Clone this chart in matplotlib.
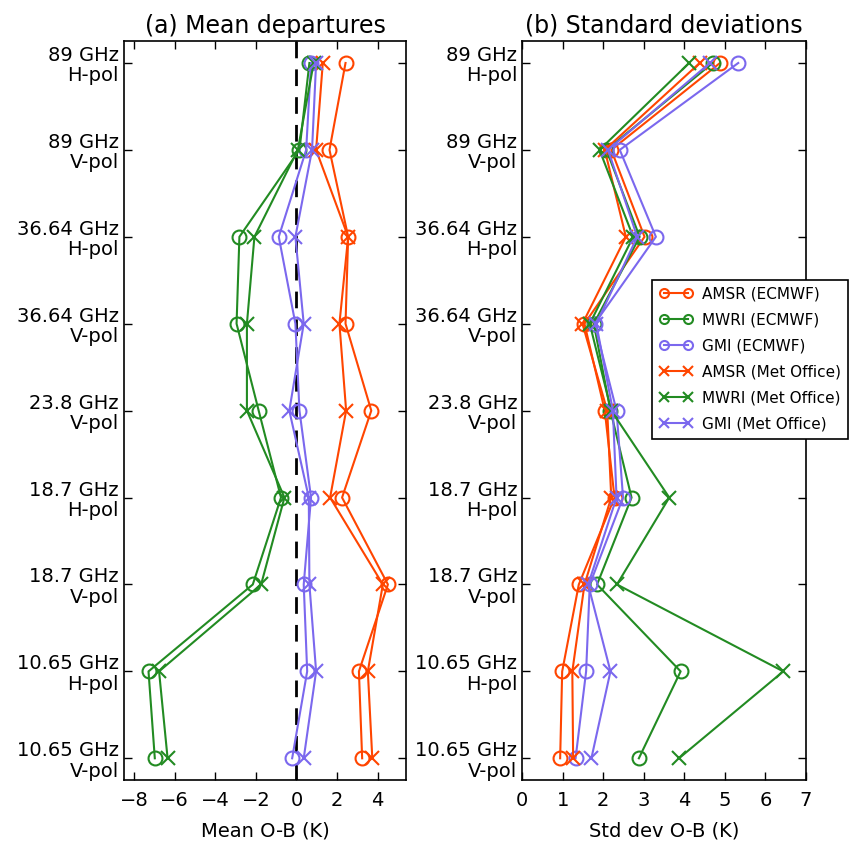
import numpy as np
import matplotlib
matplotlib.use("Agg")
import matplotlib.pyplot as plt

# channel labels, top to bottom
channels = ["89 GHz\nH-pol", "89 GHz\nV-pol", "36.64 GHz\nH-pol", "36.64 GHz\nV-pol",
            "23.8 GHz\nV-pol", "18.7 GHz\nH-pol", "18.7 GHz\nV-pol",
            "10.65 GHz\nH-pol", "10.65 GHz\nV-pol"]

# mean O-B (K)
amsr_ec_mean = [2.42, 1.63, 2.55, 2.42, 3.69, 2.25, 4.51, 3.08, 3.24]
mwri_ec_mean = [0.64, 0.15, -2.81, -2.95, -1.86, -0.76, -2.15, -7.29, -6.98]
gmi_ec_mean = [0.72, 0.48, -0.87, -0.05, 0.15, 0.72, 0.36, 0.53, -0.21]
amsr_mo_mean = [1.30, 0.97, 2.55, 2.12, 2.45, 1.66, 4.26, 3.52, 3.74]
mwri_mo_mean = [0.85, 0.07, -2.07, -2.44, -2.44, -0.59, -1.74, -6.77, -6.35]
gmi_mo_mean = [0.97, 0.77, -0.05, 0.36, -0.35, 0.61, 0.64, 0.97, 0.36]

# std dev O-B (K)
amsr_ec_std = [4.88, 2.20, 3.02, 1.54, 2.04, 2.28, 1.40, 0.99, 0.94]
mwri_ec_std = [4.70, 2.08, 2.90, 1.77, 2.18, 2.70, 1.85, 3.91, 2.88]
gmi_ec_std = [5.33, 2.41, 3.30, 1.79, 2.33, 2.49, 1.67, 1.58, 1.32]
amsr_mo_std = [4.38, 2.04, 2.56, 1.49, 2.10, 2.20, 1.54, 1.24, 1.26]
mwri_mo_std = [4.12, 1.91, 2.74, 1.67, 2.20, 3.63, 2.34, 6.44, 3.87]
gmi_mo_std = [4.63, 2.12, 2.84, 1.83, 2.24, 2.33, 1.63, 2.18, 1.71]

c_amsr = "#ff4500"
c_mwri = "#228b22"
c_gmi = "#7b68ee"

plt.rcParams["font.family"] = ["DejaVu Sans"]
plt.rcParams["xtick.direction"] = "in"
plt.rcParams["ytick.direction"] = "in"

y = np.arange(len(channels))

fig = plt.figure(figsize=(8.52, 8.42), dpi=100)
ax1 = fig.add_axes([0.1455, 0.0736, 0.331, 0.8774])
ax2 = fig.add_axes([0.6127, 0.0736, 0.3333, 0.8774])


def draw(ax, series):
    for vals, col, mk, lab in series:
        if mk == "o":
            ax.plot(vals, y, "-", color=col, marker="o", markersize=10,
                    markerfacecolor="none", markeredgecolor=col, mew=1.5,
                    lw=1.5, label=lab)
        else:
            ax.plot(vals, y, "-", color=col, marker="x", markersize=10,
                    mew=1.5, lw=1.5, label=lab)
    ax.set_yticks(y)
    ax.set_yticklabels(channels, fontsize=14, linespacing=1.1)
    ax.set_ylim(8.25, -0.25)
    ax.tick_params(axis="both", which="both", top=True, right=True,
                   length=6, width=1, labelsize=14)
    ax.tick_params(axis="x", pad=8)
    for s in ax.spines.values():
        s.set_linewidth(1.2)


series_mean = [
    (amsr_ec_mean, c_amsr, "o", "AMSR (ECMWF)"),
    (mwri_ec_mean, c_mwri, "o", "MWRI (ECMWF)"),
    (gmi_ec_mean, c_gmi, "o", "GMI (ECMWF)"),
    (amsr_mo_mean, c_amsr, "x", "AMSR (Met Office)"),
    (mwri_mo_mean, c_mwri, "x", "MWRI (Met Office)"),
    (gmi_mo_mean, c_gmi, "x", "GMI (Met Office)"),
]
series_std = [
    (amsr_ec_std, c_amsr, "o", "AMSR (ECMWF)"),
    (mwri_ec_std, c_mwri, "o", "MWRI (ECMWF)"),
    (gmi_ec_std, c_gmi, "o", "GMI (ECMWF)"),
    (amsr_mo_std, c_amsr, "x", "AMSR (Met Office)"),
    (mwri_mo_std, c_mwri, "x", "MWRI (Met Office)"),
    (gmi_mo_std, c_gmi, "x", "GMI (Met Office)"),
]

ax1.axvline(0, color="black", ls="--", lw=2, dashes=(6, 4))
draw(ax1, series_mean)
ax1.set_xlim(-8.5, 5.4)
ax1.set_xticks([-8, -6, -4, -2, 0, 2, 4])
ax1.set_xticklabels(["\u22128", "\u22126", "\u22124", "\u22122", "0", "2", "4"])
ax1.set_xlabel("Mean O-B (K)", fontsize=14, labelpad=8)
ax1.set_title("(a) Mean departures", fontsize=17, pad=6)

draw(ax2, series_std)
ax2.set_xlim(0, 7)
ax2.set_xticks(range(8))
ax2.set_xlabel("Std dev O-B (K)", fontsize=14, labelpad=8)
ax2.set_title("(b) Standard deviations", fontsize=17, pad=6)

leg = ax2.legend(loc="upper left", bbox_to_anchor=(0.458, 0.677),
                 borderaxespad=0, numpoints=2, fontsize=11, fancybox=False,
                 framealpha=1, edgecolor="black", handlelength=2.2,
                 handletextpad=0.6, labelspacing=0.72, borderpad=0.45,
                 markerscale=0.65)
leg.get_frame().set_linewidth(1.2)

fig.savefig("out.png", dpi=100)
